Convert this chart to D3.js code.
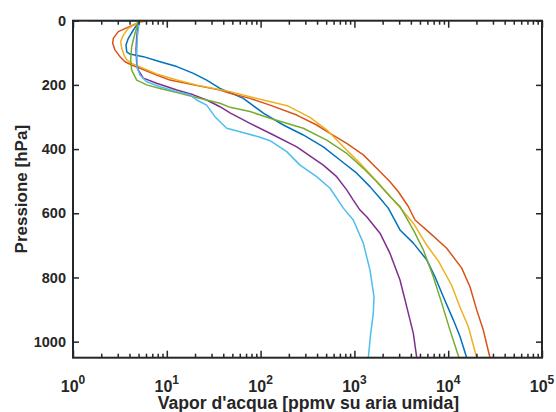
<!DOCTYPE html>
<html>
<head>
<meta charset="utf-8">
<script src="https://cdn.jsdelivr.net/npm/d3@7"></script>
<style>
  body { margin: 0; background: #fff; }
  text { font-family: "Liberation Sans", Arial, sans-serif; font-weight: bold; fill: #262626; }
</style>
</head>
<body>
<svg id="chart" width="556" height="412"></svg>
<script>
// Water-vapour profiles: pressure (hPa) and mixing ratio (ppmv on moist air)
const blueP   = [0, 6, 29, 55, 76, 97, 104, 112, 128, 143, 164, 185, 211, 224, 242, 288, 325, 356, 393, 434, 475, 517, 553, 584, 652, 693, 745, 798, 860, 932, 984, 1050];
const blueV   = [5.0, 4.97, 4.40, 3.89, 3.67, 3.74, 4.05, 5.62, 8.47, 12.8, 19.2, 26.6, 36.9, 47.2, 65.4, 107, 175, 285, 466, 702, 1059, 1466, 1875, 2298, 3063, 4250, 5900, 7230, 8870, 11330, 13370, 15740];

const redP    = [0, 6, 34, 55, 70, 91, 112, 128, 138, 148, 169, 185, 200, 216, 226, 242, 263, 294, 325, 351, 382, 418, 460, 502, 533, 579, 621, 662, 709, 771, 829, 901, 964, 1050];
const redV    = [6.0, 4.97, 3.04, 2.69, 2.65, 2.80, 3.17, 3.58, 4.22, 5.18, 7.80, 10.8, 19.2, 36.9, 47.2, 77, 126, 243, 396, 550, 828, 1245, 1729, 2396, 2940, 3756, 4430, 6400, 9640, 13940, 17060, 20130, 23670, 27900];

const yellowP = [0, 6, 24, 45, 65, 86, 107, 122, 133, 144, 166, 185, 203, 221, 237, 266, 301, 340, 393, 444, 500, 582, 631, 699, 750, 825, 893, 953, 1050];
const yellowV = [5.7, 4.97, 3.89, 3.44, 3.22, 3.31, 3.50, 3.74, 4.22, 5.18, 7.8, 12.8, 22.6, 47.2, 77, 197, 336, 507, 762, 1148, 1729, 3063, 4250, 5900, 7900, 10900, 13370, 16370, 20130];

const purpleP = [0, 6, 50, 91, 133, 154, 179, 195, 216, 231, 247, 268, 287, 320, 356, 393, 450, 486, 527, 559, 590, 611, 662, 725, 808, 891, 974, 1050];
const purpleV = [5.0, 4.97, 4.78, 4.70, 4.78, 4.97, 5.62, 7.80, 12.8, 19.2, 26.6, 36.9, 47.2, 77.1, 137, 243, 466, 647, 828, 973, 1148, 1352, 1875, 2396, 3063, 3610, 4250, 4617];

const greenP  = [0, 6, 39, 81, 122, 154, 185, 200, 211, 224, 237, 247, 257, 270, 283, 304, 335, 372, 413, 460, 502, 548, 579, 652, 714, 798, 880, 964, 1050];
const greenV  = [5.0, 4.97, 4.58, 4.22, 4.12, 4.22, 4.78, 6.10, 8.47, 12.8, 19.2, 26.6, 36.9, 47.2, 77, 126, 285, 507, 828, 1245, 1729, 2396, 3063, 4250, 5430, 6940, 8530, 10450, 13030];

const cyanP   = [0, 2, 50, 102, 148, 169, 190, 206, 221, 231, 247, 263, 299, 335, 346, 363, 374, 408, 450, 486, 522, 584, 621, 693, 777, 860, 912, 974, 1050];
const cyanV   = [1.46, 5.09, 4.85, 4.78, 4.85, 5.18, 6.10, 8.47, 12.8, 17.7, 20.8, 26.6, 32.6, 43.5, 60.3, 98.6, 126, 190, 263, 396, 550, 762, 973, 1245, 1466, 1618, 1591, 1492, 1407];

// Axis ticks
const pressureTicks = [0, 200, 400, 600, 800, 1000];
const decadeExponents = [0, 1, 2, 3, 4, 5];

const xLabel = "Vapor d'acqua [ppmv su aria umida]";
const yLabel = "Pressione [hPa]";

// Plot order and line colours (default MATLAB palette)
const profiles = [
  { p: blueP,   v: blueV,   color: "#0072BD" },
  { p: redP,    v: redV,    color: "#D95319" },
  { p: yellowP, v: yellowV, color: "#EDB120" },
  { p: purpleP, v: purpleV, color: "#7E2F8E" },
  { p: greenP,  v: greenV,  color: "#77AC30" },
  { p: cyanP,   v: cyanV,   color: "#4DBEEE" }
];

const L = 73, R = 542, T = 20.7, B = 357.7;
const axisColor = "#262626";

const svg = d3.select("#chart");

const x = d3.scaleLog().domain([1, 1e5]).range([L, R]);
const y = d3.scaleLinear().domain([0, 1050]).range([T, B]);

// Profiles
const line = d3.line()
  .x(d => x(d.v))
  .y(d => y(d.p));

svg.append("g")
  .selectAll("path")
  .data(profiles)
  .join("path")
  .attr("d", s => line(s.p.map((p, i) => ({ p, v: s.v[i] }))))
  .attr("fill", "none")
  .attr("stroke", s => s.color)
  .attr("stroke-width", 1.5)
  .attr("stroke-linejoin", "round");

// Axes: inward ticks on all four sides
const majorX = decadeExponents.map(e => Math.pow(10, e));
const minorX = [];
decadeExponents.slice(0, -1).forEach(e => {
  for (let m = 2; m <= 9; m++) minorX.push(m * Math.pow(10, e));
});

const axes = svg.append("g");

const bottomAxis = d3.axisBottom(x).tickValues(majorX).tickSizeInner(-7).tickSizeOuter(0).tickFormat("");
const bottomMinor = d3.axisBottom(x).tickValues(minorX).tickSizeInner(-4).tickSizeOuter(0).tickFormat("");
const topAxis = d3.axisTop(x).tickValues(majorX).tickSizeInner(-7).tickSizeOuter(0).tickFormat("");
const topMinor = d3.axisTop(x).tickValues(minorX).tickSizeInner(-4).tickSizeOuter(0).tickFormat("");
const leftAxis = d3.axisLeft(y).tickValues(pressureTicks).tickSizeInner(-6).tickSizeOuter(0).tickFormat("");
const rightAxis = d3.axisRight(y).tickValues(pressureTicks).tickSizeInner(-6).tickSizeOuter(0).tickFormat("");

[[bottomAxis, `translate(0,${B})`], [bottomMinor, `translate(0,${B})`],
 [topAxis, `translate(0,${T})`], [topMinor, `translate(0,${T})`],
 [leftAxis, `translate(${L},0)`], [rightAxis, `translate(${R},0)`]].forEach(([ax, tr]) => {
  const g = axes.append("g").attr("transform", tr).call(ax);
  g.select(".domain").remove();
  g.selectAll("line").attr("stroke", axisColor).attr("stroke-width", 1.5);
});

axes.append("rect")
  .attr("x", L).attr("y", T)
  .attr("width", R - L).attr("height", B - T)
  .attr("fill", "none")
  .attr("stroke", axisColor)
  .attr("stroke-width", 2);

// Tick labels
svg.append("g")
  .selectAll("text")
  .data(pressureTicks)
  .join("text")
  .attr("x", L - 7)
  .attr("y", d => y(d))
  .attr("dy", "0.36em")
  .attr("text-anchor", "end")
  .attr("font-size", 14.5)
  .text(d => d);

const xt = svg.append("g")
  .selectAll("text")
  .data(decadeExponents)
  .join("text")
  .attr("x", e => x(Math.pow(10, e)))
  .attr("y", 391.5)
  .attr("text-anchor", "middle")
  .attr("font-size", 16);
xt.append("tspan").text("10");
xt.append("tspan").attr("dy", -8).attr("font-size", 12).text(e => e);

// Axis titles
svg.append("text")
  .attr("x", (L + R) / 2 + 1)
  .attr("y", 409)
  .attr("text-anchor", "middle")
  .attr("font-size", 17.6)
  .text(xLabel);

svg.append("text")
  .attr("transform", `translate(27,${(T + B) / 2}) rotate(-90)`)
  .attr("text-anchor", "middle")
  .attr("font-size", 17)
  .text(yLabel);
</script>
</body>
</html>
